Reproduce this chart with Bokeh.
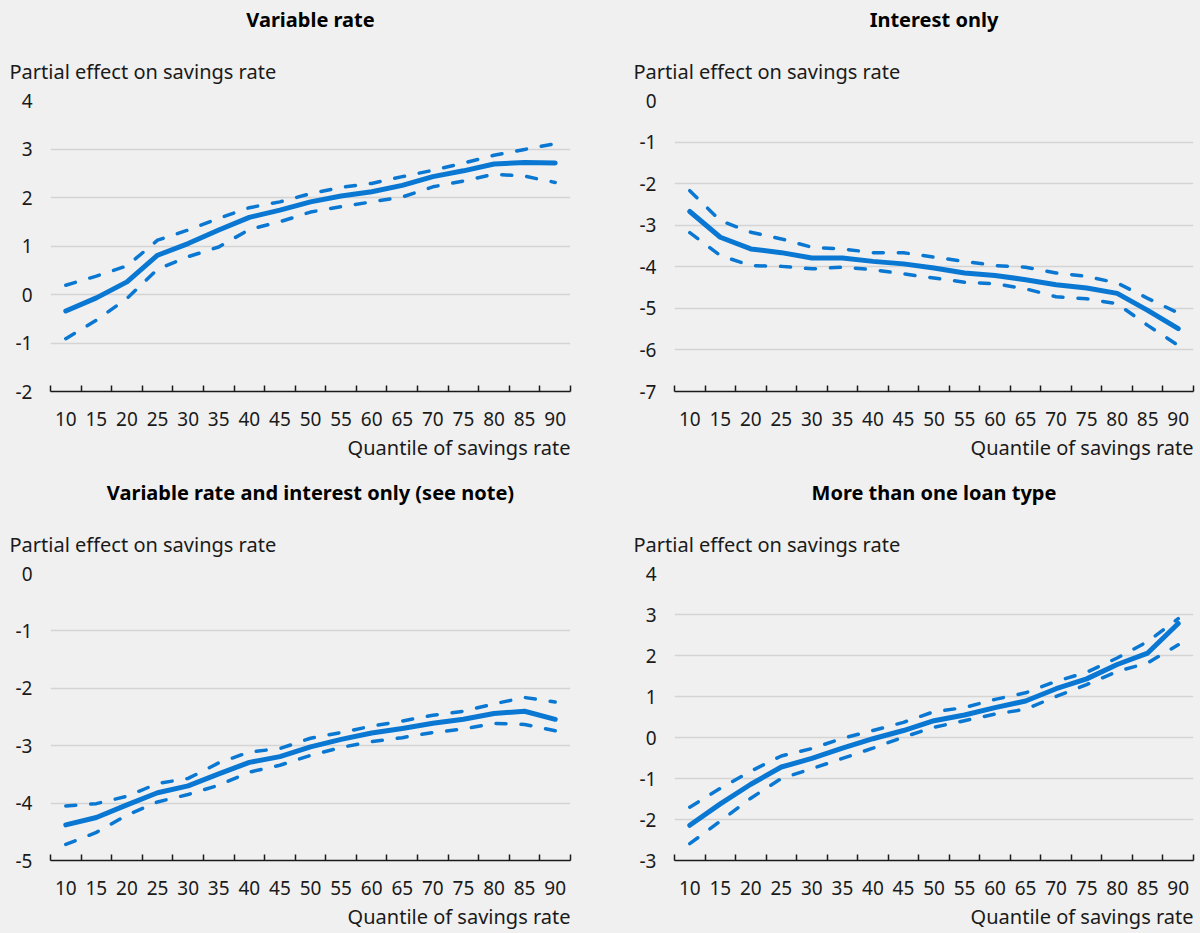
from bokeh.plotting import figure
from bokeh.layouts import column, row
from bokeh.models import Range1d, FixedTicker, Title
from bokeh.embed import file_html
from bokeh.resources import INLINE

# Datos -------------------------------------------------------------------------------
quantiles = [10, 15, 20, 25, 30, 35, 40, 45, 50, 55, 60, 65, 70, 75, 80, 85, 90]

variable_rate = [-0.34, -0.07, 0.26, 0.81, 1.05, 1.33, 1.59, 1.74, 1.91, 2.03, 2.12, 2.25, 2.43, 2.55, 2.69, 2.72, 2.71]
variable_rate_upper = [0.19, 0.38, 0.59, 1.12, 1.33, 1.57, 1.79, 1.91, 2.08, 2.21, 2.29, 2.43, 2.56, 2.71, 2.87, 2.99, 3.11]
variable_rate_lower = [-0.91, -0.53, -0.08, 0.52, 0.78, 0.98, 1.34, 1.50, 1.70, 1.81, 1.91, 2.01, 2.22, 2.34, 2.48, 2.44, 2.31]

interest_only = [-2.67, -3.29, -3.57, -3.66, -3.79, -3.79, -3.87, -3.93, -4.03, -4.15, -4.21, -4.31, -4.43, -4.51, -4.64, -5.05, -5.49]
interest_only_upper = [-2.17, -2.89, -3.17, -3.33, -3.53, -3.57, -3.66, -3.66, -3.77, -3.87, -3.97, -4.01, -4.15, -4.23, -4.39, -4.76, -5.11]
interest_only_lower = [-3.18, -3.73, -3.97, -3.99, -4.05, -4.01, -4.07, -4.17, -4.27, -4.37, -4.41, -4.53, -4.72, -4.77, -4.89, -5.41, -5.89]

both = [-4.38, -4.25, -4.03, -3.82, -3.70, -3.49, -3.29, -3.19, -3.02, -2.89, -2.78, -2.70, -2.61, -2.54, -2.44, -2.40, -2.54]
both_upper = [-4.05, -4.01, -3.88, -3.66, -3.57, -3.30, -3.11, -3.05, -2.87, -2.77, -2.66, -2.57, -2.47, -2.40, -2.27, -2.16, -2.24]
both_lower = [-4.72, -4.51, -4.21, -3.98, -3.85, -3.69, -3.46, -3.34, -3.17, -3.03, -2.93, -2.86, -2.77, -2.71, -2.61, -2.63, -2.74]

multi_loan = [-2.14, -1.62, -1.14, -0.72, -0.51, -0.26, -0.03, 0.17, 0.41, 0.55, 0.73, 0.89, 1.19, 1.43, 1.78, 2.06, 2.78]
multi_loan_upper = [-1.70, -1.24, -0.82, -0.45, -0.27, -0.02, 0.17, 0.37, 0.63, 0.73, 0.93, 1.09, 1.37, 1.59, 1.94, 2.34, 2.90]
multi_loan_lower = [-2.59, -2.04, -1.48, -1.00, -0.76, -0.51, -0.26, 0.01, 0.25, 0.41, 0.57, 0.69, 1.00, 1.29, 1.61, 1.82, 2.26]

FONDO = "#f0f0f0"
AZUL = "#0a78d2"
TEXTO = "#1a1a1a"
FUENTE = "Noto Sans"


def panel(titulo, y_min, y_max, centro, arriba, abajo, width, height, left, right, top, bottom):
    paso = quantiles[1] - quantiles[0]
    p = figure(width=width, height=height, title=titulo,
               x_range=Range1d(quantiles[0] - paso / 2, quantiles[-1] + paso / 2),
               y_range=Range1d(y_min, y_max),
               output_backend="svg", toolbar_location=None,
               min_border_left=left, min_border_right=right,
               min_border_top=top, min_border_bottom=bottom,
               background_fill_color=FONDO, border_fill_color=FONDO,
               outline_line_color=None)

    # titulo principal (queda arriba de todo)
    p.title.align = "center"
    p.title.vertical_align = "top"
    p.title.text_font = FUENTE
    p.title.text_font_size = "20px"
    p.title.text_font_style = "bold"
    p.title.text_color = "black"
    p.title.standoff = 11

    # etiqueta del eje y, horizontal encima del grafico
    p.add_layout(Title(text="Partial effect on savings rate", align="left", offset=-41,
                       text_font=FUENTE, text_font_size="20px", text_font_style="normal",
                       text_color=TEXTO, standoff=31), "above")
    p.add_layout(Title(text="Quantile of savings rate", align="right",
                       text_font=FUENTE, text_font_size="20px", text_font_style="normal",
                       text_color=TEXTO, standoff=7), "below")

    # eje x con marcas entre categorias
    bordes = [q - paso / 2 for q in quantiles] + [quantiles[-1] + paso / 2]
    p.xaxis.ticker = FixedTicker(ticks=quantiles, minor_ticks=bordes)
    p.xaxis.major_tick_in = 0
    p.xaxis.major_tick_out = 0
    p.xaxis.minor_tick_in = 6
    p.xaxis.minor_tick_out = 0
    p.xaxis.minor_tick_line_color = TEXTO
    p.xaxis.minor_tick_line_width = 1.5
    p.xaxis.axis_line_color = TEXTO
    p.xaxis.axis_line_width = 1.5
    p.xaxis.major_label_standoff = 20
    p.xaxis.major_label_text_font = FUENTE
    p.xaxis.major_label_text_font_size = "19px"
    p.xaxis.major_label_text_color = TEXTO

    marcas = list(range(y_min, y_max + 1))
    p.yaxis.ticker = FixedTicker(ticks=marcas)
    p.yaxis.major_label_overrides = {m: str(m) for m in marcas}
    p.yaxis.axis_line_color = None
    p.yaxis.major_tick_line_color = None
    p.yaxis.minor_tick_line_color = None
    p.yaxis.major_label_standoff = 12
    p.yaxis.major_label_text_font = FUENTE
    p.yaxis.major_label_text_font_size = "19px"
    p.yaxis.major_label_text_color = TEXTO

    p.xgrid.grid_line_color = None
    p.ygrid.grid_line_color = "#d4d4d4"
    p.ygrid.grid_line_width = 1.5

    p.line(quantiles, arriba, color=AZUL, line_width=3.5, line_dash="10 15", line_cap="round")
    p.line(quantiles, abajo, color=AZUL, line_width=3.5, line_dash="10 15", line_cap="round")
    p.line(quantiles, centro, color=AZUL, line_width=5, line_cap="round", line_join="round")
    return p


p1 = panel("Variable rate", -2, 4, variable_rate, variable_rate_upper, variable_rate_lower,
           600, 466, 50, 30, 100, 75)
p2 = panel("Interest only", -7, 0, interest_only, interest_only_upper, interest_only_lower,
           600, 466, 74, 7, 100, 75)
p3 = panel("Variable rate and interest only (see note)", -5, 0, both, both_upper, both_lower,
           600, 467, 50, 30, 107, 71)
p4 = panel("More than one loan type", -3, 4, multi_loan, multi_loan_upper, multi_loan_lower,
           600, 467, 74, 7, 107, 71)

layout = column(row(p1, p2), row(p3, p4))

html = file_html(layout, INLINE)
html = html.replace("<body>", '<body style="background-color:#f0f0f0;">')
open("out.html", "w").write(html)
